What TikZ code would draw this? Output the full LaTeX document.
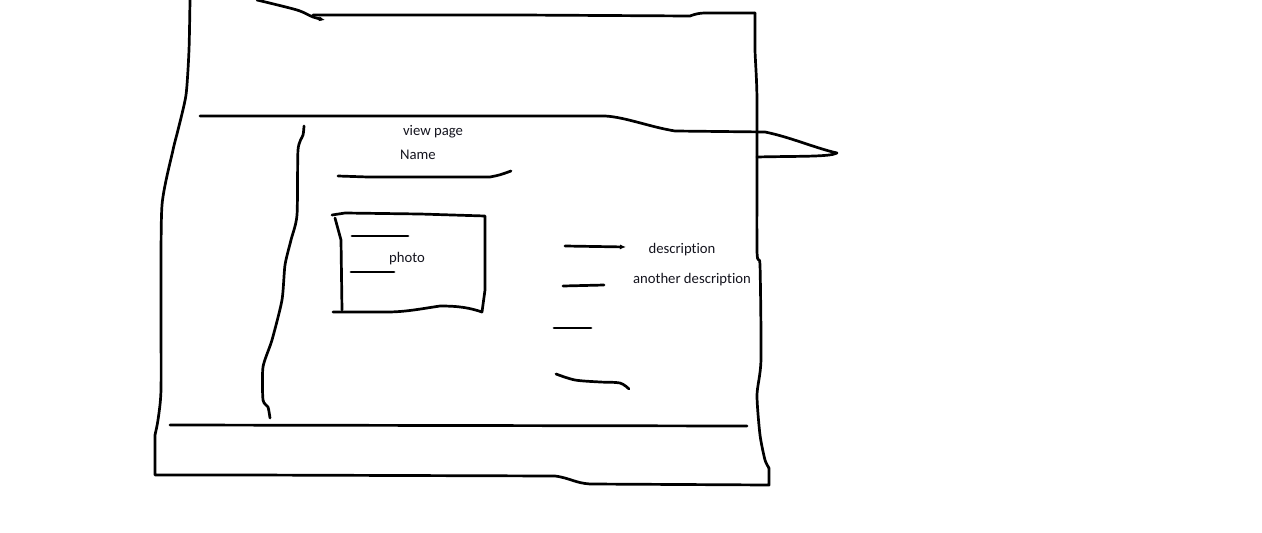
\documentclass[tikz,border=0pt]{standalone}
\usepackage{fontspec}
\setmainfont{Carlito}[Ligatures={NoCommon,NoContextual}]
\usepackage{xcolor}
\usepackage{tikz}
\usetikzlibrary{arrows.meta}
\definecolor{InkBlack}{RGB}{0, 0, 0}
\definecolor{TextDark}{RGB}{20, 20, 30}
\tikzstyle{pen} = [draw=InkBlack, line width=2.7pt, line cap=round, line join=round]
\tikzstyle{label} = [text=TextDark, font=\fontsize{14.7}{16}\selectfont, inner sep=0pt]
\tikzstyle{arrow} = [pen, -{Latex[length=6pt, width=5pt]}]

\begin{document}
\begin{tikzpicture}[x=1pt, y=-1pt]
\useasboundingbox (0,0) rectangle (1262,533);

% Cadre extérieur
\draw [pen] plot[smooth, tension=0.4] coordinates {(190,0) (189,50) (186,95) (178,130) (173,150) (162,205) (161,300) (161,390) (158,420) (155,435)} -- (155,475) -- (248,475) -- (555,476)
  .. controls (570,478) and (575,483) .. (590,484) -- (769,485) -- (769,468);
\draw [pen] plot[smooth, tension=0.4] coordinates {(769,468) (765,460) (760,435) (757,395) (761,360) (760,265) (757,250) (757,100) (755,50) (755,13)};

% Haut
\draw [pen] (313,15) -- (520,15) -- (690,16) .. controls (695,14) and (700,13) .. (705,13) -- (755,13);
\draw [arrow] plot[smooth, tension=0.5] coordinates {(257,0) (297,10) (313,17) (325,20)};

% En-tête
\draw [pen] (200,116) -- (605,116) .. controls (625,117) and (650,127) .. (675,131) -- (765,132)
  .. controls (790,137) and (815,148) .. (837,153) .. controls (830,157) and (800,156) .. (757,157);

% Barre latérale
\draw [pen] plot[smooth, tension=0.4] coordinates {(304,126) (303,135) (298,150) (297,215) (291,240) (285,265) (282,300) (272,340) (263,367) (263,400) (268,407) (270,418)};

% Pied de page
\draw [pen] (170,425) -- (747,426);

% Nom
\node (viewpage) [label] at (433,132) {view page};
\node (name) [label] at (418,155) {Name};
\draw [pen] (338,176) -- (368,177) -- (490,177) .. controls (500,175) .. (511,171);

% Photo
\draw [pen] (332,215) -- (345,213) -- (420,214) -- (485,216) -- (485,290) -- (482,312) .. controls (470,308) and (460,306) .. (440,306)
  .. controls (420,309) and (405,312) .. (387,312) -- (333,312);
\draw [pen] (335,218) -- (341,240) -- (342,310);
\draw [pen] (352,236) -- (408,236);
\draw [pen] (351,272) -- (394,272);
\node (photo) [label] at (407,259) {photo};

% Descriptions
\draw [arrow] (565,246) -- (626,247);
\node (desc) [label] at (682,250) {description};
\draw [pen] (563,286) -- (604,285);
\node (otherdesc) [label] at (692,280) {another description};
\draw [pen] (554,328) -- (591,328);
\draw [pen] plot[smooth, tension=0.5] coordinates {(556,374) (575,380) (600,382) (620,383) (629,389)};

\end{tikzpicture}
\end{document}
